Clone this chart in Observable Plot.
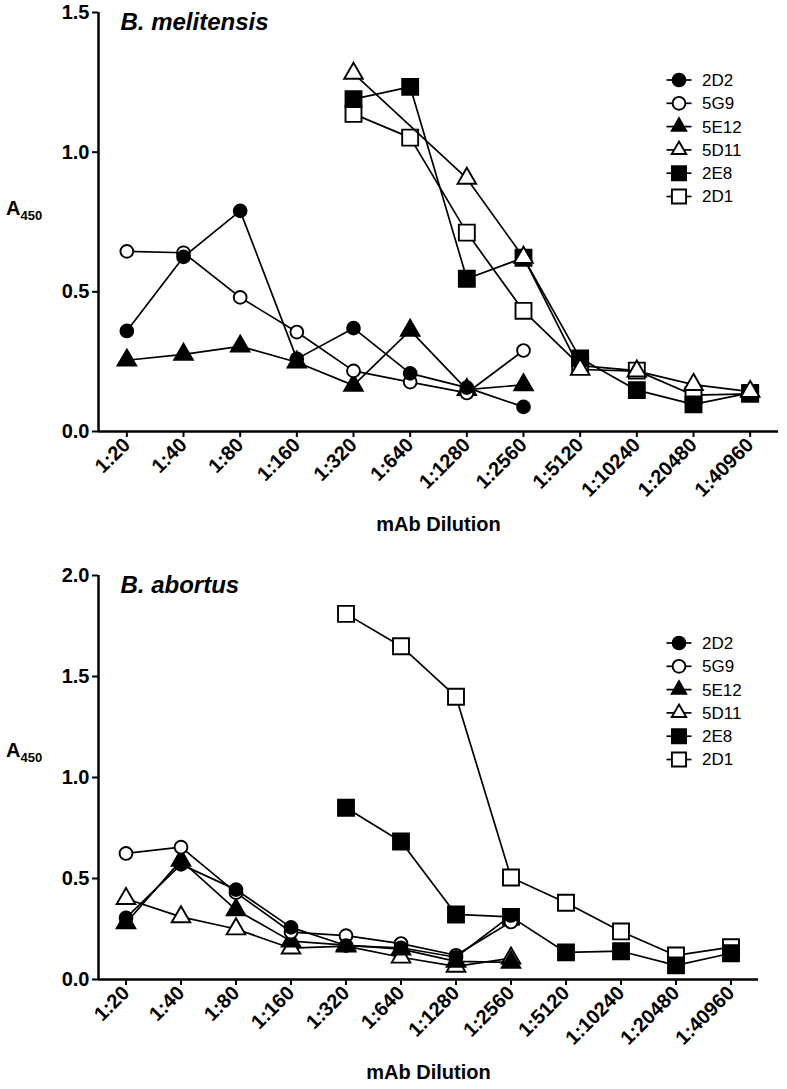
<!DOCTYPE html>
<html><head><meta charset="utf-8">
<script src="https://cdn.jsdelivr.net/npm/d3@7"></script>
<script src="https://cdn.jsdelivr.net/npm/@observablehq/plot@0.6"></script>
<style>
body{margin:0;background:#fff;}
#wrap{position:relative;width:787px;height:1089px;font-family:"Liberation Sans",Arial,sans-serif;color:#000;}
#wrap > svg{display:block;}
.ylab{position:absolute;font-weight:bold;font-size:20px;line-height:20px;white-space:nowrap;}
.ylab sub{font-size:13px;vertical-align:-5px;}
.legend{position:absolute;left:0;top:0;overflow:visible;}
</style></head><body><div id="wrap"></div>
<script>
// ---- categories / series ----
const dilutions = ["1:20","1:40","1:80","1:160","1:320","1:640","1:1280","1:2560","1:5120","1:10240","1:20480","1:40960"];
const seriesNames = ["2D2","5G9","5E12","5D11","2E8","2D1"];
const seriesSymbols = ["circle","circle","triangle","triangle","square","square"];
const seriesFills = ["black","white","black","white","black","white"];
const yTicksTop = [0, 0.5, 1.0, 1.5];
const yTicksBottom = [0, 0.5, 1.0, 1.5, 2.0];

// ---- B. melitensis (A450) ----
const meli2D2  = [0.36, 0.625, 0.79, 0.26, 0.37, 0.208, 0.157, 0.088, null, null, null, null];
const meli5G9  = [0.645, 0.64, 0.48, 0.356, 0.217, 0.177, 0.138, 0.29, null, null, null, null];
const meli5E12 = [0.255, 0.276, 0.305, 0.248, 0.165, 0.362, 0.15, 0.167, null, null, null, null];
const meli5D11 = [null, null, null, null, 1.282, null, 0.906, 0.623, 0.222, 0.216, 0.168, 0.143];
const meli2E8  = [null, null, null, null, 1.19, 1.234, 0.547, 0.622, 0.262, 0.148, 0.097, 0.138];
const meli2D1  = [null, null, null, null, 1.137, 1.052, 0.712, 0.432, 0.236, 0.218, 0.13, 0.135];

// ---- B. abortus (A450) ----
const abo2D2  = [0.305, 0.57, 0.445, 0.258, 0.168, 0.157, 0.11, 0.317, null, null, null, null];
const abo5G9  = [0.624, 0.655, 0.43, 0.235, 0.217, 0.178, 0.12, 0.285, null, null, null, null];
const abo5E12 = [0.28, 0.59, 0.345, 0.19, 0.17, 0.15, 0.09, 0.085, null, null, null, null];
const abo5D11 = [0.40, 0.31, 0.25, 0.155, 0.165, 0.11, 0.065, 0.105, null, null, null, null];
const abo2E8  = [null, null, null, null, 0.85, 0.683, 0.322, 0.31, 0.134, 0.14, 0.07, 0.13];
const abo2D1  = [null, null, null, null, 1.81, 1.65, 1.40, 0.505, 0.38, 0.238, 0.119, 0.16];

const symR = {circle: 6.4, triangle: 6.9, square: 9.0};
const font = "'Liberation Sans', Arial, sans-serif";
const wrap = document.getElementById("wrap");

function rows(values) {
  return values.map((v, i) => ({i, v})).filter(d => d.v != null);
}

function panel({title, data, yMax, yTicks, height, marginTop, marginBottom, marginRight}) {
  const marks = [];
  for (let s = seriesNames.length - 1; s >= 0; --s) {
    const r = rows(data[s]);
    marks.push(Plot.line(r, {x: "i", y: "v", stroke: "black", strokeWidth: 1.7}));
    marks.push(Plot.dot(r, {x: "i", y: "v", symbol: seriesSymbols[s], r: symR[seriesSymbols[s]],
      fill: seriesFills[s], stroke: "black", strokeWidth: 1.9}));
  }
  return Plot.plot({
    width: 787, height, marginLeft: 98, marginRight, marginTop, marginBottom,
    style: {fontFamily: font, fontSize: "20px", fontWeight: "bold", background: "white", color: "black", overflow: "visible"},
    x: {domain: [-0.5, dilutions.length - 0.5]},
    y: {domain: [0, yMax]},
    marks: [
      Plot.axisX({ticks: d3.range(dilutions.length), tickFormat: i => dilutions[i], tickRotate: -45,
        tickSize: 6, tickPadding: 4, label: null, strokeWidth: 2}),
      Plot.axisY({ticks: yTicks, tickFormat: d3.format(".1f"), tickSize: 6, tickPadding: 3, label: null, strokeWidth: 2}),
      Plot.ruleY([0], {strokeWidth: 2.5}),
      Plot.ruleX([-0.5], {strokeWidth: 2.5}),
      ...marks,
      Plot.text([title], {text: d => d, frameAnchor: "top-left", dx: 22, dy: 10, lineAnchor: "middle",
        textAnchor: "start", fontSize: 24, fontWeight: "bold", fontStyle: "italic"}),
      Plot.text(["mAb Dilution"], {text: d => d, frameAnchor: "bottom", dy: 99, fontSize: 20, fontWeight: "bold"})
    ]
  });
}

const chartTop = panel({title: "B. melitensis", data: [meli2D2, meli5G9, meli5E12, meli5D11, meli2E8, meli2D1],
  yMax: 1.5, yTicks: yTicksTop, height: 548, marginTop: 12, marginBottom: 117, marginRight: 9});
const chartBottom = panel({title: "B. abortus", data: [abo2D2, abo5G9, abo5E12, abo5D11, abo2E8, abo2D1],
  yMax: 2.0, yTicks: yTicksBottom, height: 541, marginTop: 27, marginBottom: 110, marginRight: 29});
wrap.appendChild(chartTop);
wrap.appendChild(chartBottom);

// y labels A450
[198, 740].forEach(y => {
  const d = document.createElement("div");
  d.className = "ylab";
  d.style.left = "6px"; d.style.top = y + "px";
  d.innerHTML = "A<sub>450</sub>";
  wrap.appendChild(d);
});

// legends
const leg = d3.select(wrap).append("svg").attr("class", "legend").attr("width", 787).attr("height", 1089);
const symFn = {circle: d3.symbolCircle, triangle: d3.symbolTriangle2, square: d3.symbolSquare2};
[80, 643].forEach(y0 => {
  seriesNames.forEach((name, s) => {
    const y = y0 + s * 23.3;
    const g = leg.append("g").attr("transform", `translate(679,${y})`);
    g.append("line").attr("x1", -12.5).attr("x2", 12.5).attr("stroke", "black").attr("stroke-width", 1.7);
    const rr = symR[seriesSymbols[s]];
    g.append("path").attr("d", d3.symbol(symFn[seriesSymbols[s]], Math.PI * rr * rr)())
      .attr("fill", seriesFills[s]).attr("stroke", "black").attr("stroke-width", 1.9);
    g.append("text").attr("x", 23).attr("y", 0).attr("dy", "0.35em")
      .attr("font-family", font).attr("font-size", 17).text(name);
  });
});
</script></body></html>
